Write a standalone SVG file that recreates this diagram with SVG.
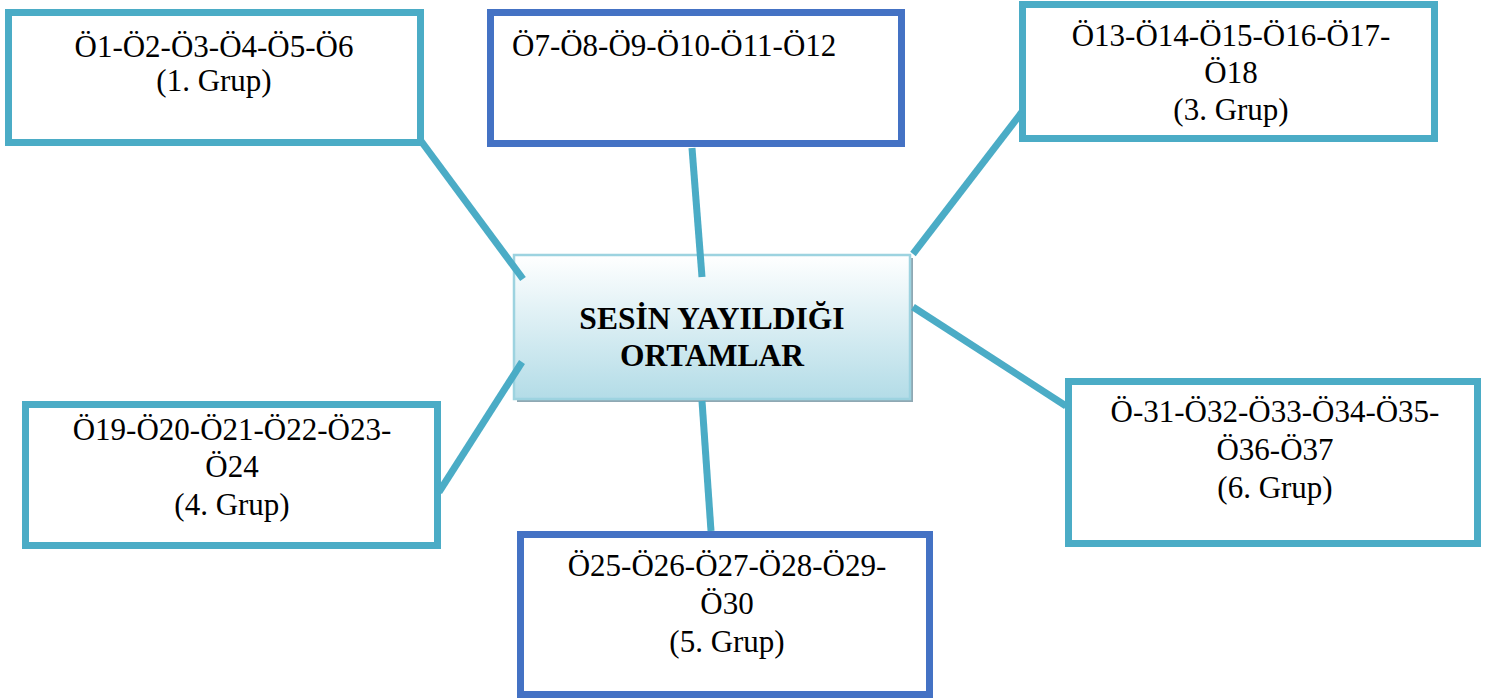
<svg xmlns="http://www.w3.org/2000/svg" width="1489" height="700" viewBox="0 0 1489 700">
<style>
.box{fill:#ffffff;stroke-width:7}
.lb{stroke:#4BACC6}
.db{stroke:#4472C4}
.t{font-family:"Liberation Serif","Times New Roman",serif;font-size:31px;fill:#000000;text-anchor:middle}
.tl{text-anchor:start}
.title{font-family:"Liberation Serif","Times New Roman",serif;font-size:31.5px;font-weight:bold;fill:#000000;text-anchor:middle}
.conn{stroke:#4BACC6;stroke-width:7;fill:none;stroke-linecap:butt}
</style>
<defs>
<linearGradient id="cg" x1="0" y1="0" x2="0" y2="1">
<stop offset="0" stop-color="#ffffff"/>
<stop offset="1" stop-color="#b3dce7"/>
</linearGradient>
</defs>
<rect width="1489" height="700" fill="#ffffff"/>
<g id="node-center">
<rect x="517" y="258" width="396" height="144" fill="#8fa8b3"/>
<rect x="514" y="255" width="396" height="144" fill="url(#cg)" stroke="#9dd3e0" stroke-width="2.5"/>
<text class="title" x="712" y="329">SESİN YAYILDIĞI</text>
<text class="title" x="712" y="366">ORTAMLAR</text>
</g>
<g id="node-g1">
<rect class="box lb" x="8.5" y="12.5" width="412" height="130"/>
<text class="t" x="214" y="57">Ö1-Ö2-Ö3-Ö4-Ö5-Ö6</text>
<text class="t" x="214" y="91">(1. Grup)</text>
</g>
<g id="node-g2">
<rect class="box db" x="490.5" y="12.5" width="411" height="131"/>
<text class="t tl" x="512" y="56">Ö7-Ö8-Ö9-Ö10-Ö11-Ö12</text>
</g>
<g id="node-g3">
<rect class="box lb" x="1022.5" y="4.5" width="412" height="134"/>
<text class="t" x="1231" y="46">Ö13-Ö14-Ö15-Ö16-Ö17-</text>
<text class="t" x="1231" y="83">Ö18</text>
<text class="t" x="1231" y="120">(3. Grup)</text>
</g>
<g id="node-g4">
<rect class="box lb" x="25.5" y="404.5" width="412" height="141"/>
<text class="t" x="232" y="440">Ö19-Ö20-Ö21-Ö22-Ö23-</text>
<text class="t" x="232" y="477">Ö24</text>
<text class="t" x="232" y="515">(4. Grup)</text>
</g>
<g id="node-g5">
<rect class="box db" x="520.5" y="534.5" width="409" height="160"/>
<text class="t" x="727" y="576">Ö25-Ö26-Ö27-Ö28-Ö29-</text>
<text class="t" x="727" y="614">Ö30</text>
<text class="t" x="727" y="652">(5. Grup)</text>
</g>
<g id="node-g6">
<rect class="box lb" x="1068.5" y="381.5" width="409" height="162"/>
<text class="t" x="1275" y="422">Ö-31-Ö32-Ö33-Ö34-Ö35-</text>
<text class="t" x="1275" y="460">Ö36-Ö37</text>
<text class="t" x="1275" y="498">(6. Grup)</text>
</g>
<g id="connectors">
<line class="conn" x1="421" y1="141" x2="523" y2="279"/>
<line class="conn" x1="692" y1="148" x2="702" y2="277"/>
<line class="conn" x1="1022" y1="112" x2="913" y2="254"/>
<line class="conn" x1="913" y1="307" x2="1066" y2="406"/>
<line class="conn" x1="522" y1="362" x2="439" y2="492"/>
<line class="conn" x1="702" y1="401" x2="711" y2="531"/>
</g>
</svg>
